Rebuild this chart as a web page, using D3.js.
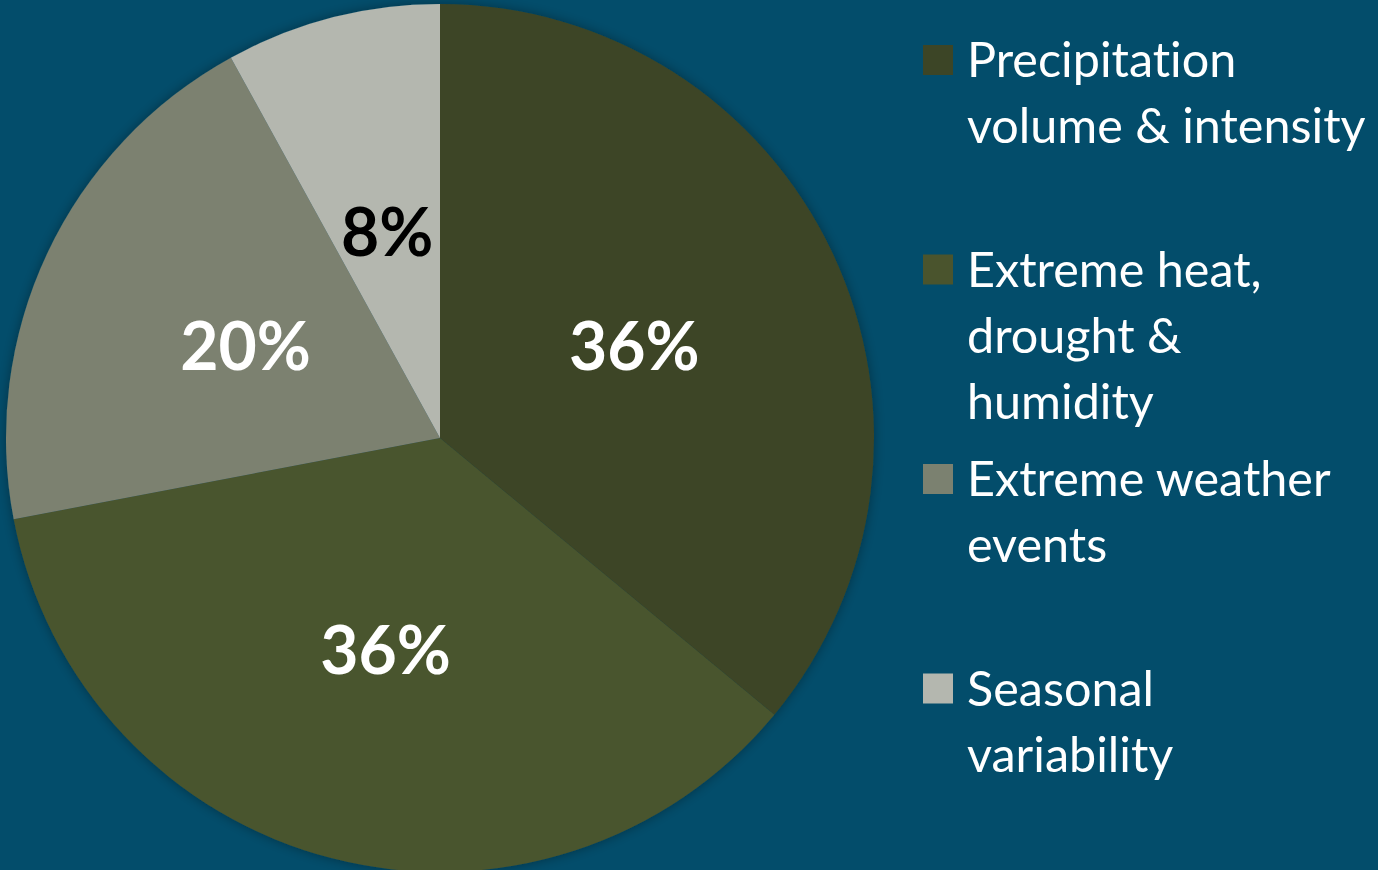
<!DOCTYPE html>
<html>
<head>
<meta charset="utf-8">
<script src="https://cdn.jsdelivr.net/npm/d3@7"></script>
<style>
  html, body { margin: 0; padding: 0; background: #034d6b; overflow: hidden; }
  svg { display: block; }
  text { font-variant-ligatures: none; }
</style>
</head>
<body>
<svg id="chart" width="1378" height="870"></svg>
<script>
// data
var categories = ["Precipitation volume & intensity", "Extreme heat, drought & humidity", "Extreme weather events", "Seasonal variability"];
var legendLines = [["Precipitation", "volume & intensity"], ["Extreme heat,", "drought &", "humidity"], ["Extreme weather", "events"], ["Seasonal", "variability"]];
var values = [36, 36, 20, 8];
var colors = ["#3c4526", "#4a542d", "#7b8170", "#b4b7af"];
var labelColors = ["#ffffff", "#ffffff", "#ffffff", "#000000"];

var width = 1378, height = 870;
var cx = 440, cy = 438, radius = 434;
var fontFam = "Lato, 'Open Sans', sans-serif";

var svg = d3.select("#chart");

var defs = svg.append("defs");
var filt = defs.append("filter").attr("id", "shadow")
  .attr("x", "-10%").attr("y", "-10%").attr("width", "120%").attr("height", "120%");
filt.append("feDropShadow")
  .attr("dx", 0).attr("dy", 0).attr("stdDeviation", 6)
  .attr("flood-color", "#000").attr("flood-opacity", 0.35);

var data = categories.map(function(c, i){ return {name: c, value: values[i], i: i}; });

var pie = d3.pie().sort(null).value(function(d){ return d.value; });
var arc = d3.arc().innerRadius(0).outerRadius(radius);

var g = svg.append("g").attr("transform", "translate(" + cx + "," + cy + ")");

g.append("g").attr("filter", "url(#shadow)")
  .selectAll("path")
  .data(pie(data))
  .enter()
  .append("path")
  .attr("d", arc)
  .attr("fill", function(d){ return colors[d.data.i]; });

// label distance from centre, as fraction of radius
var labelR = [0.495, 0.505, 0.495, 0.49];

g.selectAll("text.lbl")
  .data(pie(data))
  .enter()
  .append("text")
  .attr("class", "lbl")
  .attr("transform", function(d){
    var a = (d.startAngle + d.endAngle) / 2;
    var r = radius * labelR[d.data.i];
    return "translate(" + (Math.sin(a) * r) + "," + (-Math.cos(a) * r) + ")";
  })
  .attr("text-anchor", "middle")
  .attr("dy", "0.36em")
  .attr("fill", function(d){ return labelColors[d.data.i]; })
  .style("font-family", fontFam)
  .style("font-weight", "bold")
  .style("font-size", "66px")
  .text(function(d){ return d.data.value + "%"; });

// legend
var legend = svg.append("g").attr("transform", "translate(923,45)");
var itemStep = 209.5;

var items = legend.selectAll("g.item")
  .data(data)
  .enter()
  .append("g")
  .attr("class", "item")
  .attr("transform", function(d, i){ return "translate(0," + (i * itemStep) + ")"; });

items.append("rect")
  .attr("width", 30).attr("height", 30)
  .attr("fill", function(d){ return colors[d.i]; });

items.append("text")
  .attr("x", 44)
  .attr("y", 32)
  .attr("fill", "#ffffff")
  .style("font-family", fontFam)
  .style("font-size", "48.5px")
  .selectAll("tspan")
  .data(function(d){ return legendLines[d.i]; })
  .enter()
  .append("tspan")
  .attr("x", 44)
  .attr("dy", function(d, i){ return i === 0 ? 0 : 66; })
  .text(function(d){ return d; });
</script>
</body>
</html>
